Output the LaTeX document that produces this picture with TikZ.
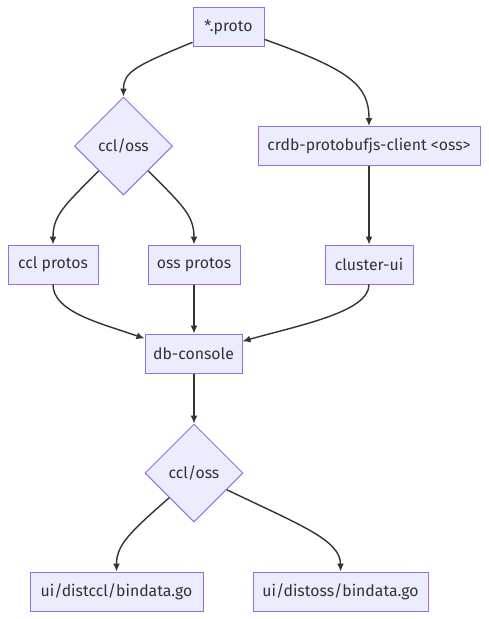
\documentclass[tikz,border=0pt]{standalone}
\usepackage{fontspec}
\setmainfont{Fira Sans}
\usetikzlibrary{shapes.geometric,arrows.meta}
\definecolor{nodefill}{HTML}{ECECFF}
\definecolor{nodeline}{HTML}{9370DB}
\definecolor{edgeline}{HTML}{333333}
\begin{document}
\begin{tikzpicture}[x=1pt, y=-1pt]
\tikzstyle{box}    = [rectangle, text centered, draw=nodeline, fill=nodefill, line width=1pt, minimum height=39pt, inner sep=0pt, font=\fontsize{15.8}{18}\selectfont, text=edgeline]
\tikzstyle{choice} = [diamond, text centered, draw=nodeline, fill=nodefill, line width=1pt, minimum width=98pt, minimum height=98pt, inner sep=0pt, font=\fontsize{15.8}{18}\selectfont, text=edgeline]
\tikzstyle{edge}   = [-{Latex[length=8pt, width=7pt]}, line width=1.4pt, edgeline]
\useasboundingbox[fill=white] (0,0) rectangle (488,619);
\node[box, minimum width=71pt] at (228.5, 27.0) (proto) {*.proto};
\node[choice] at (123.5, 146.0) (sel_0) {ccl/oss};
\node[box, minimum width=222pt] at (369.0, 146.0) (client) {crdb-protobufjs-client <oss>};
\node[box, minimum width=90pt] at (53.0, 264.5) (ccl_p) {ccl protos};
\node[box, minimum width=92pt] at (194.0, 264.5) (oss_p) {oss protos};
\node[box, minimum width=88pt] at (369.0, 264.5) (cui) {cluster-ui};
\node[box, minimum width=97pt] at (193.5, 353.5) (dbc) {db-console};
\node[choice] at (194.0, 473.0) (sel_1) {ccl/oss};
\node[box, minimum width=173pt] at (116.5, 591.5) (dist_ccl) {ui/distccl/bindata.go};
\node[box, minimum width=175pt] at (340.5, 591.5) (dist_oss) {ui/distoss/bindata.go};
\draw[edge] (proto.203) .. controls (135, 66) and (123.5, 72) .. (sel_0.north);
\draw[edge] (proto.341) .. controls (350, 70) and (369, 85) .. (client.north);
\draw[edge] (sel_0.225) .. controls (65, 205) and (53, 215) .. (ccl_p.north);
\draw[edge] (sel_0.315) .. controls (182, 205) and (194, 215) .. (oss_p.north);
\draw[edge] (client.south) -- (cui.north);
\draw[edge] (ccl_p.south) .. controls (53, 312) and (100, 323) .. (dbc.163);
\draw[edge] (oss_p.south) -- (oss_p.south |- dbc.north);
\draw[edge] (cui.south) .. controls (369, 312) and (300, 325) .. (dbc.14);
\draw[edge] (dbc.south -| sel_1.north) -- (sel_1.north);
\draw[edge] (sel_1.225) .. controls (130, 532) and (116.5, 545) .. (dist_ccl.north);
\draw[edge] (sel_1.333) .. controls (300, 525) and (340.5, 540) .. (dist_oss.north);
\end{tikzpicture}
\end{document}
